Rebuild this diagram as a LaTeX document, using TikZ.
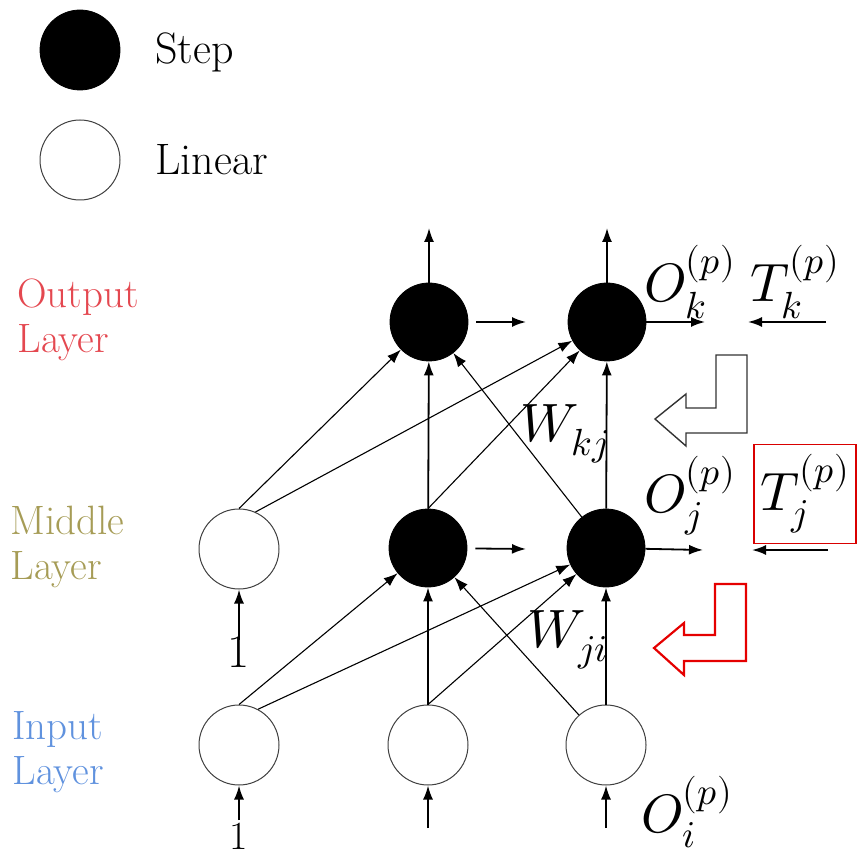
\documentclass[tikz,border=0pt]{standalone}
\usepackage{amsmath}
\usepackage{fontspec}
\usepackage{unicode-math}
\setmathfont{Latin Modern Math}
\usepackage{xcolor}
\usepackage{tikz}
\usetikzlibrary{arrows.meta}
\definecolor{outred}{RGB}{228,72,80}
\definecolor{midolive}{RGB}{166,156,86}
\definecolor{inblue}{RGB}{96,146,222}
\newcommand{\lbltxt}{\fontsize{20.5}{22.5}\selectfont}
\newcommand{\legtxt}{\fontsize{22}{26}\selectfont}
\newcommand{\symtxt}{\fontsize{27}{32}\selectfont}

\begin{document}
\begin{tikzpicture}[x=0.5pt,y=-0.5pt,
  stepnode/.style={circle,fill=black,draw=black,minimum size=39pt,inner sep=0pt},
  linnode/.style={circle,draw=black!75,fill=white,minimum size=40pt,inner sep=0pt,line width=0.5pt},
  conn/.style={-{Latex[length=7pt,width=5pt]},line width=0.55pt},
  flow/.style={-{Latex[length=7pt,width=5pt]},line width=0.9pt},
  lbl/.style={anchor=west,align=left,inner sep=0pt,font=\lbltxt}]
  \useasboundingbox (0,0) rectangle (858,860);
  % legend
  \node[stepnode,minimum size=40pt] (legstep) at (80,50) {};
  \node[linnode] (leglin) at (80,160) {};
  \node[lbl,font=\legtxt] (legsteptxt) at (155,52) {Step};
  \node[lbl,font=\legtxt] (leglintxt) at (155,160) {Linear};
  % layer names
  \node[lbl,text=outred] (outlab) at (17,320) {Output\\Layer};
  \node[lbl,text=midolive] (midlab) at (10,547) {Middle\\Layer};
  \node[lbl,text=inblue] (inlab) at (12,752) {Input\\Layer};
  % units
  \node[stepnode] (o1) at (429,322) {};
  \node[stepnode] (o2) at (607,322) {};
  \node[linnode] (h0) at (239,549) {};
  \node[stepnode] (h1) at (428,548) {};
  \node[stepnode] (h2) at (606,548) {};
  \node[linnode] (i0) at (239,745) {};
  \node[linnode] (i1) at (428,745) {};
  \node[linnode] (i2) at (606,745) {};
  % free ends
  \coordinate (o1up) at (429,228);
  \coordinate (o2up) at (607,228);
  \coordinate (o1r) at (526,322);
  \coordinate (o2r) at (705,322);
  \coordinate (tkfrom) at (826,322);
  \coordinate (tkto) at (748,322);
  \coordinate (h1r) at (526,549);
  \coordinate (h2r) at (703,550);
  \coordinate (tjfrom) at (828,550);
  \coordinate (tjto) at (752,550);
  \coordinate (h0in) at (239,640);
  \coordinate (i0in) at (239,820);
  \coordinate (i1in) at (428,828);
  \coordinate (i2in) at (606,828);
  % input -> middle
  \draw[conn] (i0.north) -- (h1);
  \draw[conn] (i0.62) -- (h2);
  \draw[flow] (i1) -- (h1);
  \draw[conn] (i1.north) -- (h2);
  \draw[flow] (i2) -- (h2);
  \draw[conn] (i2) -- (h1);
  % middle -> output
  \draw[conn] (h0.north) -- (o1);
  \draw[conn] (h0.66) -- (o2);
  \draw[flow] (h1) -- (o1);
  \draw[conn] (h1.north) -- (o2);
  \draw[flow] (h2) -- (o2);
  \draw[conn] (h2) -- (o1);
  % outputs and targets
  \draw[flow] (o1) -- (o1up);
  \draw[flow] (o2) -- (o2up);
  \draw[flow,shorten <=4pt] (o1) -- (o1r);
  \draw[flow] (o2) -- (o2r);
  \draw[flow] (tkfrom) -- (tkto);
  \draw[flow,shorten <=4pt] (h1) -- (h1r);
  \draw[flow] (h2) -- (h2r);
  \draw[flow] (tjfrom) -- (tjto);
  % inputs
  \draw[flow] (h0in) -- (h0);
  \draw[flow] (i0in) -- (i0);
  \draw[flow] (i1in) -- (i1);
  \draw[flow] (i2in) -- (i2);
  \node[font=\fontsize{24}{28}\selectfont] (h0one) at (239,652) {1};
  \node[font=\fontsize{20}{24}\selectfont,inner sep=0pt] (i0one) at (239,836) {1};
  % symbols
  \node (ok) at (690,282) {\symtxt$O_k^{(p)}$};
  \node (tk) at (795,282) {\symtxt$T_k^{(p)}$};
  \node (oj) at (690,496) {\symtxt$O_j^{(p)}$};
  \node[draw=red!85!black,line width=0.6pt,minimum width=51pt,minimum height=49.5pt,inner sep=0pt] (tj) at (805,494) {\symtxt$T_j^{(p)}$};
  \node (oi) at (687,812) {\symtxt$O_i^{(p)}$};
  \node (wkj) at (565,434) {\symtxt$W_{kj}$};
  \node (wji) at (568,640) {\symtxt$W_{ji}$};
  % hollow arrows (correction direction)
  \draw[black!80,line width=0.7pt] (716,355) -- (747,355) -- (747,433) -- (686,433) -- (686,446)
    -- (655,419) -- (686,394) -- (686,408) -- (716,408) -- cycle;
  \draw[red!90!black,line width=1.1pt] (715,584) -- (746,584) -- (746,661) -- (684,661) -- (684,675)
    -- (654,648) -- (684,623) -- (684,635) -- (715,635) -- cycle;
\end{tikzpicture}
\end{document}
